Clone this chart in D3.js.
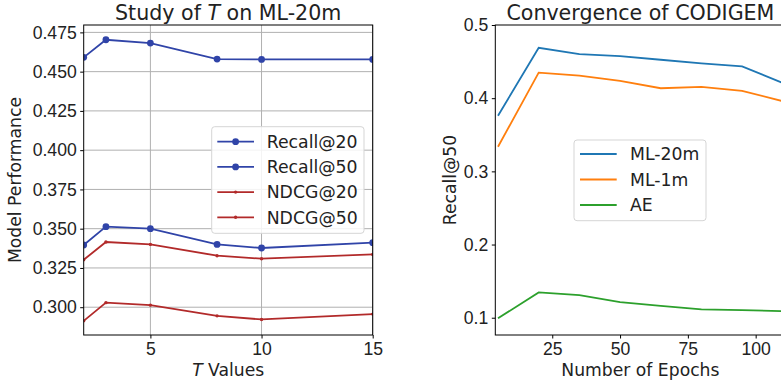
<!DOCTYPE html>
<html><head><meta charset="utf-8">
<script src="https://cdn.jsdelivr.net/npm/d3@7"></script>
<style>
body{margin:0;background:#fff;}
svg{display:block;font-family:"DejaVu Sans",sans-serif;}
.axis text{fill:#222;}
</style></head>
<body>
<svg id="c" width="781" height="382"></svg>
<script>
// ---- data: left panel ----
const tValues = [2, 3, 5, 8, 10, 15];
const recall20 = [0.3396, 0.3513, 0.3500, 0.3400, 0.3377, 0.3411];
const recall50 = [0.4591, 0.4703, 0.4682, 0.4580, 0.4578, 0.4578];
const ndcg20 = [0.2913, 0.3029, 0.3013, 0.2945, 0.2922, 0.2956];
const ndcg50 = [0.3302, 0.3415, 0.3400, 0.3328, 0.3309, 0.3336];
const leftXTicks = [5, 10, 15];
const leftYTicks = [0.300, 0.325, 0.350, 0.375, 0.400, 0.425, 0.450, 0.475];
// ---- data: right panel ----
const epochs = [5, 20, 35, 50, 65, 80, 95, 110];
const ml20m = [0.3759, 0.4689, 0.4603, 0.4575, 0.4525, 0.4475, 0.4434, 0.4208];
const ml1m = [0.3337, 0.4349, 0.4308, 0.4236, 0.4136, 0.4154, 0.4100, 0.3959];
const ae = [0.0992, 0.1346, 0.1309, 0.1214, 0.1163, 0.1114, 0.1104, 0.1090];
const rightXTicks = [25, 50, 75, 100];
const rightYTicks = [0.1, 0.2, 0.3, 0.4, 0.5];

const svg = d3.select("#c");
const TICK_FS = "17.6px", LAB_FS = "17.2px", TITLE_FS = "20.6px", LEG_FS = "17.3px";

// ---------- LEFT PANEL ----------
const L = {x0: 83.7, x1: 372.7, y0: 25, y1: 335};
const xL = d3.scaleLinear().domain([2, 15]).range([L.x0, L.x1]);
const yL = d3.scaleLinear().domain([0.2823, 0.4797]).range([L.y1, L.y0]);
const gL = svg.append("g");

// grid
gL.append("g").selectAll("line").data(leftXTicks).join("line")
  .attr("x1", d => xL(d)).attr("x2", d => xL(d)).attr("y1", L.y0).attr("y2", L.y1)
  .attr("stroke", "#b0b0b0").attr("stroke-width", 1);
gL.append("g").selectAll("line").data(leftYTicks).join("line")
  .attr("y1", d => yL(d)).attr("y2", d => yL(d)).attr("x1", L.x0).attr("x2", L.x1)
  .attr("stroke", "#b0b0b0").attr("stroke-width", 1);

const blue = "#3044a8", red = "#b22a2a";
const leftSeries = [
  {name: "Recall@20", vals: recall20, color: blue, r: 3.4},
  {name: "Recall@50", vals: recall50, color: blue, r: 3.4},
  {name: "NDCG@20", vals: ndcg20, color: red, r: 1.7},
  {name: "NDCG@50", vals: ndcg50, color: red, r: 1.7}
];
svg.append("clipPath").attr("id", "clipL").append("rect")
  .attr("x", L.x0).attr("y", L.y0).attr("width", L.x1 - L.x0).attr("height", L.y1 - L.y0);
const lineL = d3.line().x((d, i) => xL(tValues[i])).y(d => yL(d));
const plotL = gL.append("g").attr("clip-path", "url(#clipL)");
leftSeries.forEach(s => {
  plotL.append("path").attr("d", lineL(s.vals)).attr("fill", "none")
    .attr("stroke", s.color).attr("stroke-width", 1.8);
  plotL.append("g").selectAll("circle").data(s.vals).join("circle")
    .attr("cx", (d, i) => xL(tValues[i])).attr("cy", d => yL(d)).attr("r", s.r)
    .attr("fill", s.color);
});

// axes
const axL = gL.append("g").attr("class", "axis").attr("transform", `translate(0,${L.y1})`)
  .call(d3.axisBottom(xL).tickValues(leftXTicks).tickSize(3.5).tickPadding(4.5).tickSizeOuter(0));
const ayL = gL.append("g").attr("class", "axis").attr("transform", `translate(${L.x0},0)`)
  .call(d3.axisLeft(yL).tickValues(leftYTicks).tickFormat(d3.format(".3f")).tickSize(3.5).tickPadding(3.5).tickSizeOuter(0));
[axL, ayL].forEach(a => { a.select(".domain").remove(); a.selectAll("text").style("font-size", TICK_FS);
  a.selectAll("line").attr("stroke", "#000"); });
gL.append("rect").attr("x", L.x0).attr("y", L.y0).attr("width", L.x1 - L.x0).attr("height", L.y1 - L.y0)
  .attr("fill", "none").attr("stroke", "#000").attr("stroke-width", 1);

// titles/labels
const tL = gL.append("text").attr("x", (L.x0 + L.x1) / 2).attr("y", 20).attr("text-anchor", "middle")
  .style("font-size", TITLE_FS).attr("fill", "#222");
tL.append("tspan").text("Study of ");
tL.append("tspan").attr("font-style", "italic").text("T");
tL.append("tspan").text(" on ML-20m");
const xlL = gL.append("text").attr("x", (L.x0 + L.x1) / 2).attr("y", 375.5).attr("text-anchor", "middle")
  .style("font-size", LAB_FS).attr("fill", "#222");
xlL.append("tspan").attr("font-style", "italic").text("T");
xlL.append("tspan").text(" Values");
gL.append("text").attr("transform", `translate(20.5,${(L.y0 + L.y1) / 2}) rotate(-90)`)
  .attr("text-anchor", "middle").style("font-size", LAB_FS).attr("fill", "#222").text("Model Performance");

// legend
const legL = gL.append("g");
legL.append("rect").attr("x", 211.7).attr("y", 126.7).attr("width", 152.3).attr("height", 106.6)
  .attr("rx", 3).attr("fill", "#fff").attr("fill-opacity", 0.85).attr("stroke", "#d5d5d5");
leftSeries.forEach((s, i) => {
  const y = 141.7 + i * 25.2;
  legL.append("line").attr("x1", 217.3).attr("x2", 254).attr("y1", y).attr("y2", y)
    .attr("stroke", s.color).attr("stroke-width", 1.8);
  legL.append("circle").attr("cx", 235.6).attr("cy", y).attr("r", s.r).attr("fill", s.color);
  legL.append("text").attr("x", 266.7).attr("y", y + 6.2).style("font-size", LEG_FS)
    .attr("fill", "#222").text(s.name);
});

// ---------- RIGHT PANEL ----------
const R = {x0: 495.3, x1: 785.5, y0: 25, y1: 335};
const xR = d3.scaleLinear().domain([4, 111]).range([R.x0, R.x1]);
const yR = d3.scaleLinear().domain([0.0764, 0.5]).range([R.y1, R.y0]);
const gR = svg.append("g");
const rightSeries = [
  {name: "ML-20m", vals: ml20m, color: "#1f77b4"},
  {name: "ML-1m", vals: ml1m, color: "#ff7f0e"},
  {name: "AE", vals: ae, color: "#2ca02c"}
];
svg.append("clipPath").attr("id", "clipR").append("rect")
  .attr("x", R.x0).attr("y", R.y0).attr("width", R.x1 - R.x0).attr("height", R.y1 - R.y0);
const lineR = d3.line().x((d, i) => xR(epochs[i])).y(d => yR(d));
const plotR = gR.append("g").attr("clip-path", "url(#clipR)");
rightSeries.forEach(s => {
  plotR.append("path").attr("d", lineR(s.vals)).attr("fill", "none")
    .attr("stroke", s.color).attr("stroke-width", 1.8);
});
const axR = gR.append("g").attr("class", "axis").attr("transform", `translate(0,${R.y1})`)
  .call(d3.axisBottom(xR).tickValues(rightXTicks).tickSize(3.5).tickPadding(4.5).tickSizeOuter(0));
const ayR = gR.append("g").attr("class", "axis").attr("transform", `translate(${R.x0},0)`)
  .call(d3.axisLeft(yR).tickValues(rightYTicks).tickFormat(d3.format(".1f")).tickSize(3.5).tickPadding(3.5).tickSizeOuter(0));
[axR, ayR].forEach(a => { a.select(".domain").remove(); a.selectAll("text").style("font-size", TICK_FS);
  a.selectAll("line").attr("stroke", "#000"); });
gR.append("rect").attr("x", R.x0).attr("y", R.y0).attr("width", R.x1 - R.x0).attr("height", R.y1 - R.y0)
  .attr("fill", "none").attr("stroke", "#000").attr("stroke-width", 1);
gR.append("text").attr("x", (R.x0 + R.x1) / 2).attr("y", 20).attr("text-anchor", "middle")
  .style("font-size", TITLE_FS).attr("fill", "#222").text("Convergence of CODIGEM");
gR.append("text").attr("x", (R.x0 + R.x1) / 2).attr("y", 375.5).attr("text-anchor", "middle")
  .style("font-size", LAB_FS).attr("fill", "#222").text("Number of Epochs");
gR.append("text").attr("transform", `translate(456,${(R.y0 + R.y1) / 2}) rotate(-90)`)
  .attr("text-anchor", "middle").style("font-size", LAB_FS).attr("fill", "#222").text("Recall@50");
const legR = gR.append("g");
legR.append("rect").attr("x", 574).attr("y", 140).attr("width", 132).attr("height", 80.7)
  .attr("rx", 3).attr("fill", "#fff").attr("fill-opacity", 0.85).attr("stroke", "#d5d5d5");
rightSeries.forEach((s, i) => {
  const y = 154 + i * 25.5;
  legR.append("line").attr("x1", 580).attr("x2", 616.7).attr("y1", y).attr("y2", y)
    .attr("stroke", s.color).attr("stroke-width", 1.8);
  legR.append("text").attr("x", 630).attr("y", y + 6.2).style("font-size", LEG_FS)
    .attr("fill", "#222").text(s.name);
});
</script>
</body></html>
